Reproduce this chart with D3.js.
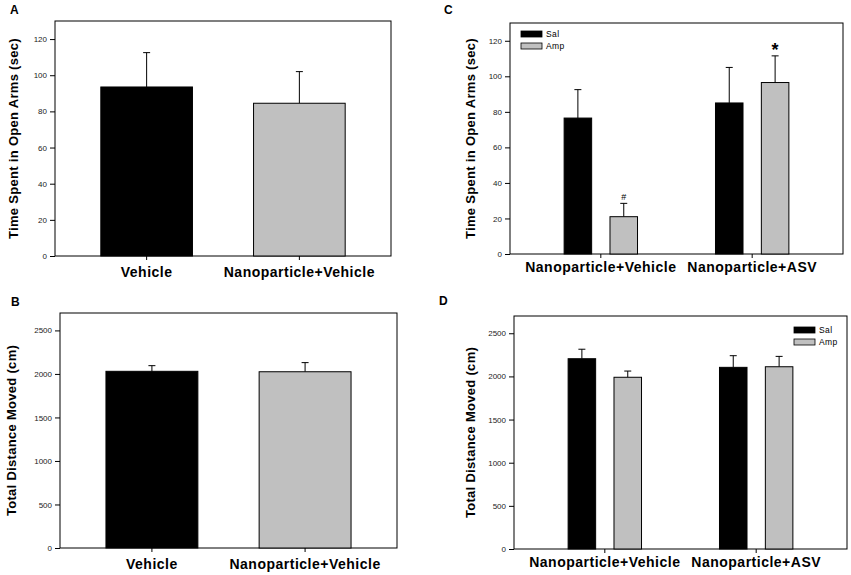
<!DOCTYPE html>
<html>
<head>
<meta charset="utf-8">
<script src="https://cdn.jsdelivr.net/npm/d3@7"></script>
<style>
  body { margin: 0; background: #fff; }
  svg { display: block; font-family: Arial, "Liberation Sans", sans-serif; }
  .tick text { font-size: 8px; fill: #222; }
  .tick line, .domain { stroke: #000; }
</style>
</head>
<body>
<svg id="chart" width="851" height="575"></svg>
<script>
// categories
const singleCats = ['Vehicle', 'Nanoparticle+Vehicle'];
const groupCats = ['Nanoparticle+Vehicle', 'Nanoparticle+ASV'];
const seriesNames = ['Sal', 'Amp'];

// A: time in open arms (sec)
const timeA = [93.5, 84.5];
const timeAErr = [19, 17.5];

// B: total distance moved (cm)
const distB = [2030, 2025];
const distBErr = [65, 105];

// C: time in open arms, Sal vs Amp
const timeCSal = [76.5, 85];
const timeCSalErr = [16, 20];
const timeCAmp = [21, 96.5];
const timeCAmpErr = [7.5, 15];
const marksCAmp = ['#', '*'];

// D: total distance moved, Sal vs Amp
const distDSal = [2205, 2105];
const distDSalErr = [110, 135];
const distDAmp = [1990, 2112];
const distDAmpErr = [72, 120];

// tick labels
const timeTicks = [0, 20, 40, 60, 80, 100, 120];
const distTicks = [0, 500, 1000, 1500, 2000, 2500];

const colors = { Sal: '#000000', Amp: '#c0c0c0' };
const svg = d3.select('#chart');

// draw one panel; groups is an array of {cat, bars:[{slot, name, value, err, mark}]}
function drawPanel(cfg) {
  const { box, yMax, ticks, title, letter, letterPos, groups, legend, labelGap, titleGap } = cfg;
  const g = svg.append('g');

  const y = d3.scaleLinear().domain([0, yMax]).range([box.bottom, box.top]);
  const x0 = d3.scaleBand()
    .domain(groups.map(d => d.cat))
    .range([box.left, box.right])
    .paddingInner(0.4)
    .paddingOuter(0.3);

  const slots = groups[0].bars.map(b => b.slot);
  const x1 = d3.scaleBand()
    .domain(slots)
    .range([0, x0.bandwidth()])
    .paddingInner(slots.length > 1 ? 0.4 : 0)
    .paddingOuter(slots.length > 1 ? 0.19 : 0);
  const cx = d => x1(d.slot) + x1.bandwidth() / 2;

  // frame
  g.append('rect')
    .attr('x', box.left).attr('y', box.top)
    .attr('width', box.right - box.left).attr('height', box.bottom - box.top)
    .attr('fill', 'none').attr('stroke', '#000').attr('stroke-width', 1);

  // y axis
  g.append('g')
    .attr('transform', `translate(${box.left},0)`)
    .call(d3.axisLeft(y).tickValues(ticks).tickSize(5).tickPadding(3).tickFormat(d3.format('d')))
    .call(a => a.select('.domain').remove());

  // x axis ticks (labels drawn separately, bold)
  g.append('g')
    .attr('transform', `translate(0,${box.bottom})`)
    .call(d3.axisBottom(x0).tickSize(4).tickFormat(''))
    .call(a => a.select('.domain').remove());

  const grp = g.selectAll('.grp')
    .data(groups)
    .enter().append('g')
    .attr('transform', d => `translate(${x0(d.cat)},0)`);

  const bar = grp.selectAll('.bar')
    .data(d => d.bars)
    .enter().append('g');

  // error bars (upper only)
  bar.append('line')
    .attr('x1', cx).attr('x2', cx)
    .attr('y1', d => y(d.value))
    .attr('y2', d => y(d.value + d.err))
    .attr('stroke', '#000').attr('stroke-width', 1);
  bar.append('line')
    .attr('x1', d => cx(d) - 3.5)
    .attr('x2', d => cx(d) + 3.5)
    .attr('y1', d => y(d.value + d.err))
    .attr('y2', d => y(d.value + d.err))
    .attr('stroke', '#000').attr('stroke-width', 1);

  bar.append('rect')
    .attr('x', d => x1(d.slot))
    .attr('y', d => y(d.value))
    .attr('width', x1.bandwidth())
    .attr('height', d => y(0) - y(d.value))
    .attr('fill', d => colors[d.name])
    .attr('stroke', '#000').attr('stroke-width', 1);

  // significance marks
  bar.filter(d => d.mark)
    .append('text')
    .attr('x', cx)
    .attr('y', d => y(d.value + d.err) - (d.mark === '*' ? 0 : 3))
    .attr('text-anchor', 'middle')
    .attr('font-size', d => d.mark === '*' ? '18px' : '9px')
    .attr('font-weight', d => d.mark === '*' ? 'bold' : 'normal')
    .text(d => d.mark);

  // category labels
  g.selectAll('.cat')
    .data(groups)
    .enter().append('text')
    .attr('x', d => x0(d.cat) + x0.bandwidth() / 2)
    .attr('y', box.bottom + labelGap)
    .attr('text-anchor', 'middle')
    .attr('font-size', '14px')
    .attr('font-weight', 'bold')
    .attr('letter-spacing', '0.5px')
    .text(d => d.cat);

  // y title
  g.append('text')
    .attr('transform', `translate(${box.left - titleGap},${(box.top + box.bottom) / 2}) rotate(-90)`)
    .attr('text-anchor', 'middle')
    .attr('dominant-baseline', 'middle')
    .attr('font-size', '13px')
    .attr('font-weight', 'bold')
    .attr('letter-spacing', '0.3px')
    .text(title);

  // panel letter
  g.append('text')
    .attr('x', letterPos[0]).attr('y', letterPos[1])
    .attr('font-size', '12px')
    .attr('font-weight', 'bold')
    .text(letter);

  // legend
  if (legend) {
    const lg = g.append('g').attr('transform', `translate(${legend[0]},${legend[1]})`);
    const item = lg.selectAll('.item')
      .data(seriesNames)
      .enter().append('g')
      .attr('transform', (d, i) => `translate(0,${i * 12})`);
    item.append('rect')
      .attr('width', 21).attr('height', 6)
      .attr('fill', d => colors[d])
      .attr('stroke', '#000').attr('stroke-width', 0.8);
    item.append('text')
      .attr('x', 25).attr('y', 6)
      .attr('font-size', '8.5px')
      .attr('letter-spacing', '0.4px')
      .text(d => d);
  }
}

// one bar per category: first black, second gray
function singleGroups(values, errs) {
  return singleCats.map((c, i) => ({
    cat: c,
    bars: [{ slot: 'one', name: seriesNames[i], value: values[i], err: errs[i] }]
  }));
}

function pairedGroups(sal, salErr, amp, ampErr, marks) {
  return groupCats.map((c, i) => ({
    cat: c,
    bars: [
      { slot: 'Sal', name: 'Sal', value: sal[i], err: salErr[i] },
      { slot: 'Amp', name: 'Amp', value: amp[i], err: ampErr[i], mark: marks ? marks[i] : null }
    ]
  }));
}

drawPanel({
  box: { left: 55, right: 391, top: 21, bottom: 256 },
  yMax: 130, ticks: timeTicks,
  title: 'Time Spent in Open Arms (sec)',
  letter: 'A', letterPos: [10, 14],
  groups: singleGroups(timeA, timeAErr),
  labelGap: 21, titleGap: 40
});

drawPanel({
  box: { left: 60, right: 397, top: 313, bottom: 548 },
  yMax: 2700, ticks: distTicks,
  title: 'Total Distance Moved (cm)',
  letter: 'B', letterPos: [11, 306],
  groups: singleGroups(distB, distBErr),
  labelGap: 21, titleGap: 47
});

drawPanel({
  box: { left: 510, right: 843, top: 23, bottom: 254 },
  yMax: 130, ticks: timeTicks,
  title: 'Time Spent in Open Arms (sec)',
  letter: 'C', letterPos: [444, 14],
  groups: pairedGroups(timeCSal, timeCSalErr, timeCAmp, timeCAmpErr, marksCAmp),
  legend: [521, 31],
  labelGap: 18, titleGap: 38
});

drawPanel({
  box: { left: 514, right: 847, top: 316, bottom: 549 },
  yMax: 2700, ticks: distTicks,
  title: 'Total Distance Moved (cm)',
  letter: 'D', letterPos: [439, 305],
  groups: pairedGroups(distDSal, distDSalErr, distDAmp, distDAmpErr),
  legend: [794, 327],
  labelGap: 18, titleGap: 42
});
</script>
</body>
</html>
